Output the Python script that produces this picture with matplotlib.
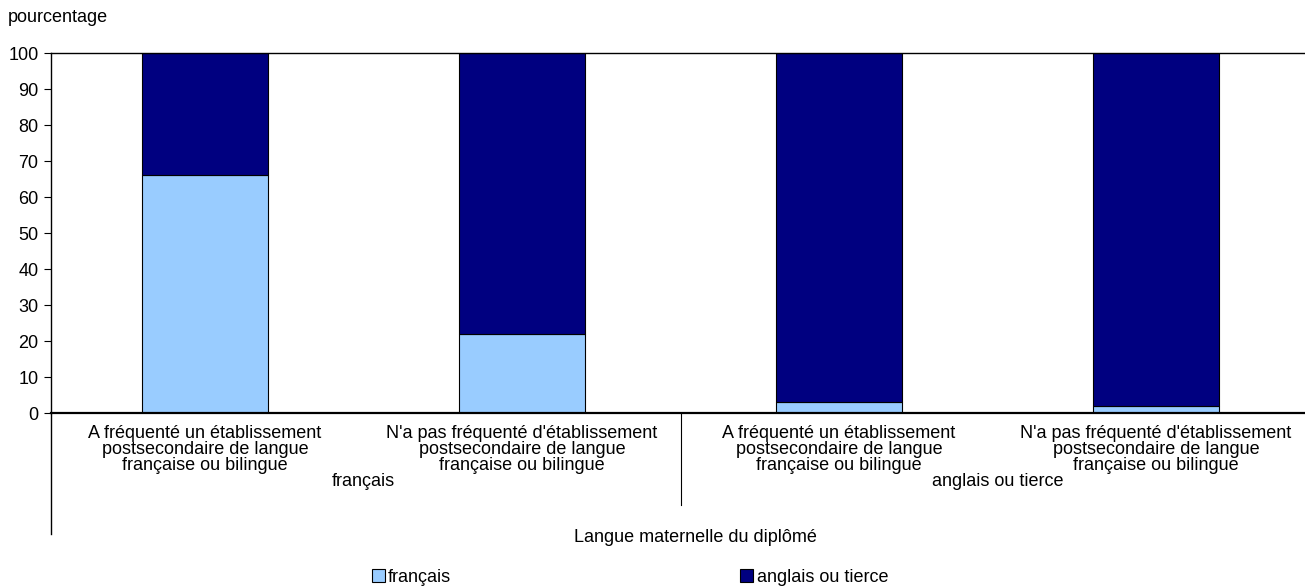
import numpy as np
import matplotlib.pyplot as plt
from matplotlib.lines import Line2D
from matplotlib.patches import Patch

plt.rcParams['font.family'] = ['Liberation Sans Narrow', 'Liberation Sans', 'DejaVu Sans']

categories = [
    "A fréquenté un établissement\npostsecondaire de langue\nfrançaise ou bilingue",
    "N'a pas fréquenté d'établissement\npostsecondaire de langue\nfrançaise ou bilingue",
    "A fréquenté un établissement\npostsecondaire de langue\nfrançaise ou bilingue",
    "N'a pas fréquenté d'établissement\npostsecondaire de langue\nfrançaise ou bilingue",
]
groups = ["français", "anglais ou tierce"]
francais = [66, 22, 3, 2]
anglais = [34, 78, 97, 98]

W, H = 1305, 586
fs = 13
fig = plt.figure(figsize=(W / 100, H / 100), dpi=100)
ax = fig.add_axes([51 / W, 1 - 413 / H, 1 - 51 / W, 360 / H])

x = np.arange(len(categories))
c1, c2 = '#99CCFF', '#000080'
ax.bar(x, francais, width=0.4, color=c1, edgecolor='black', linewidth=0.8)
ax.bar(x, anglais, width=0.4, bottom=francais, color=c2, edgecolor='black', linewidth=0.8)

ax.set_xlim(-0.486, 3.47)
ax.set_ylim(0, 100)
ax.set_yticks(range(0, 101, 10))
ax.set_xticks([])
ax.tick_params(axis='y', direction='out', length=5, labelsize=fs, pad=4)
ax.spines['right'].set_visible(False)
ax.spines['bottom'].set_linewidth(1.6)
ax.spines['top'].set_linewidth(1.0)
ax.spines['left'].set_linewidth(1.0)

trans = ax.get_xaxis_transform()
for xi, lab in zip(x, categories):
    ax.text(xi, -0.033, lab, transform=trans, ha='center', va='top',
            fontsize=fs, linespacing=0.93)

ax.text(0.5, -0.19, groups[0], transform=trans, ha='center', va='center', fontsize=fs)
ax.text(2.5, -0.19, groups[1], transform=trans, ha='center', va='center', fontsize=fs)

# separator between groups and extended left spine
ax.add_line(Line2D([1.5, 1.5], [0, -0.255], transform=trans, color='black', lw=0.8, clip_on=False))
ax.add_line(Line2D([0, 0], [0, -0.336], transform=ax.transAxes, color='black', lw=1.0, clip_on=False))

fig.text(695 / W, 1 - 537 / H, "Langue maternelle du diplômé", ha='center', va='center', fontsize=fs)
fig.text(8 / W, 1 - 18 / H, "pourcentage", ha='left', va='center', fontsize=fs)

handles = [Patch(facecolor=c1, edgecolor='black', linewidth=0.8, label='français'),
           Patch(facecolor=c2, edgecolor='black', linewidth=0.8, label='anglais ou tierce')]
fig.legend(handles=handles, loc='center', bbox_to_anchor=(630 / W, 1 - 577 / H), ncol=2,
           frameon=False, fontsize=fs, handlelength=0.7, handleheight=0.7,
           handletextpad=0.2, columnspacing=16)

fig.savefig('out.png', dpi=100)
